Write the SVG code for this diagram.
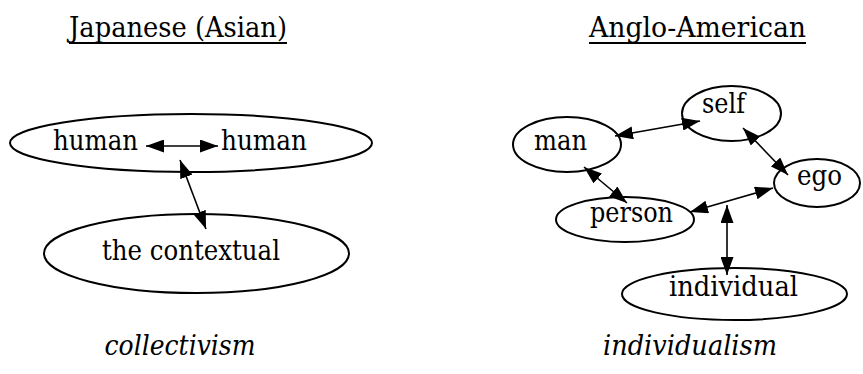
<svg xmlns="http://www.w3.org/2000/svg" width="863" height="374" viewBox="0 0 863 374">
<style>
text{font-family:"DejaVu Serif","Liberation Serif","Times New Roman",serif;font-size:28px;fill:#000;text-anchor:middle}
.it{font-style:italic}
.node ellipse{fill:none;stroke:#000;stroke-width:2}
.ul{stroke:#000;stroke-width:2}
.edge{stroke:#000;stroke-width:1.6;fill:none;marker-start:url(#ah);marker-end:url(#ah)}
</style>
<defs>
<marker id="ah" viewBox="0 0 18 13" refX="18" refY="6.5" markerWidth="18" markerHeight="13" markerUnits="userSpaceOnUse" orient="auto-start-reverse">
<path d="M0,0 L18,6.5 L0,13 z" fill="#000"/>
</marker>
</defs>
<g id="titles">
<text x="178" y="37" textLength="218" lengthAdjust="spacingAndGlyphs">Japanese (Asian)</text>
<line class="ul" x1="69" y1="43" x2="287" y2="43"/>
<text x="697.5" y="37" textLength="217" lengthAdjust="spacingAndGlyphs">Anglo-American</text>
<line class="ul" x1="589" y1="43" x2="806" y2="43"/>
<text class="it" x="180" y="355" textLength="151" lengthAdjust="spacingAndGlyphs">collectivism</text>
<text class="it" x="690" y="355" textLength="174" lengthAdjust="spacingAndGlyphs">individualism</text>
</g>
<g id="human-human" class="node">
<ellipse cx="191" cy="143" rx="181" ry="29"/>
<text x="95.5" y="150" textLength="85" lengthAdjust="spacingAndGlyphs">human</text>
<text x="264" y="150" textLength="86" lengthAdjust="spacingAndGlyphs">human</text>
</g>
<g id="the-contextual" class="node">
<ellipse cx="196.5" cy="253.5" rx="152.5" ry="39.5"/>
<text x="191" y="260" textLength="178" lengthAdjust="spacingAndGlyphs">the contextual</text>
</g>
<g id="man" class="node">
<ellipse cx="567" cy="144.5" rx="54" ry="27.5"/>
<text x="560.5" y="150" textLength="53" lengthAdjust="spacingAndGlyphs">man</text>
</g>
<g id="self" class="node">
<ellipse cx="731.5" cy="113.5" rx="49.5" ry="27.5"/>
<text x="723.5" y="113" textLength="43" lengthAdjust="spacingAndGlyphs">self</text>
</g>
<g id="ego" class="node">
<ellipse cx="817" cy="183" rx="43" ry="24"/>
<text x="819.5" y="185" textLength="45" lengthAdjust="spacingAndGlyphs">ego</text>
</g>
<g id="person" class="node">
<ellipse cx="625" cy="219.5" rx="69" ry="22.5"/>
<text x="631.5" y="222" textLength="83" lengthAdjust="spacingAndGlyphs">person</text>
</g>
<g id="individual" class="node">
<ellipse cx="734.5" cy="294" rx="112.5" ry="26"/>
<text x="733.5" y="296" textLength="129" lengthAdjust="spacingAndGlyphs">individual</text>
</g>
<g id="connectors">
<line class="edge" x1="146" y1="146" x2="218" y2="146"/>
<line class="edge" x1="180" y1="160" x2="206" y2="229"/>
<line class="edge" x1="615" y1="136" x2="700" y2="121"/>
<line class="edge" x1="743" y1="128" x2="788" y2="175"/>
<line class="edge" x1="584" y1="167" x2="627" y2="203"/>
<line class="edge" x1="690" y1="212" x2="773" y2="188"/>
<line class="edge" x1="727" y1="205" x2="727" y2="275"/>
</g>
</svg>
